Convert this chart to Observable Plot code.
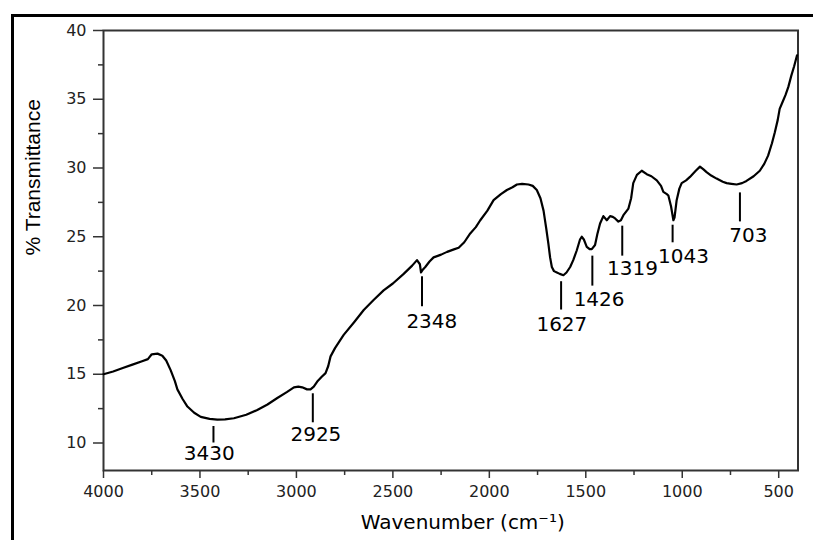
<!DOCTYPE html>
<html><head><meta charset="utf-8">
<script src="https://cdn.jsdelivr.net/npm/d3@7"></script>
<script src="https://cdn.jsdelivr.net/npm/@observablehq/plot@0.6"></script>
<style>
html,body{margin:0;padding:0;background:#fff;overflow:hidden;}
#wrap{position:relative;width:813px;height:540px;overflow:hidden;}
#chart{position:absolute;left:0;top:0;}
#border{position:absolute;left:11px;top:14px;width:820px;height:560px;border-left:3px solid #000;border-top:3px solid #000;pointer-events:none;}
</style></head><body>
<div id="wrap"><div id="chart"></div><div id="border"></div></div>
<script>
const wavenumber = [4000,3950,3900,3850,3800,3770,3750,3720,3695,3675,3652,3630,3617,3590,3565,3530,3496,3450,3410,3370,3324,3260,3203,3150,3099,3050,3013,2990,2970,2945,2927,2910,2892,2870,2849,2835,2823,2800,2755,2700,2651,2600,2548,2500,2444,2400,2375,2360,2354,2345,2332,2310,2289,2250,2219,2180,2159,2130,2099,2070,2047,2010,1978,1940,1909,1880,1857,1830,1797,1775,1754,1735,1719,1705,1694,1685,1676,1665,1650,1635,1616,1600,1581,1565,1547,1530,1521,1510,1495,1480,1469,1452,1440,1426,1409,1391,1374,1360,1348,1331,1318,1305,1279,1265,1254,1235,1210,1184,1160,1132,1110,1098,1080,1072,1058,1046,1040,1029,1015,1003,980,960,930,908,890,874,850,822,790,770,745,718,690,667,630,598,575,555,535,520,505,495,480,465,450,435,420,405];
const transmittance = [15.0,15.2,15.45,15.7,15.95,16.1,16.45,16.5,16.35,16.0,15.3,14.5,13.9,13.2,12.65,12.2,11.9,11.75,11.7,11.72,11.8,12.05,12.4,12.8,13.27,13.7,14.05,14.1,14.05,13.9,13.9,14.1,14.47,14.8,15.08,15.6,16.3,16.9,17.86,18.8,19.67,20.4,21.1,21.6,22.3,22.9,23.3,23.0,22.4,22.6,22.8,23.2,23.5,23.7,23.9,24.1,24.2,24.6,25.24,25.7,26.2,26.9,27.66,28.1,28.4,28.6,28.8,28.85,28.8,28.7,28.4,27.8,26.9,25.6,24.5,23.5,22.8,22.5,22.4,22.3,22.2,22.4,22.8,23.3,24.0,24.8,25.0,24.8,24.27,24.1,24.1,24.4,25.2,25.96,26.5,26.2,26.5,26.45,26.33,26.1,26.2,26.57,27.05,27.8,28.9,29.5,29.8,29.55,29.4,29.1,28.7,28.26,28.1,28.0,27.2,26.2,26.4,27.66,28.5,28.9,29.1,29.35,29.8,30.1,29.9,29.7,29.45,29.23,29.0,28.9,28.85,28.8,28.9,29.06,29.4,29.8,30.3,30.9,31.8,32.6,33.5,34.3,34.8,35.3,35.9,36.7,37.4,38.2];

const peakLabels = ["3430","2925","2348","1627","1426","1319","1043","703"];
const peakLineX = [3430,2915,2349,1628,1466,1311,1050,701];
const peakLineTop = [11.2,13.58,22.09,21.73,23.59,25.77,25.84,28.19];
const peakLineBottom = [10.0,11.47,19.91,19.67,21.41,23.59,24.56,26.08];
const peakTextX = [3452,2899,2298,1624,1431,1258,994,657];
const peakTextY = [9.22,10.62,18.82,18.58,20.45,22.7,23.59,25.12];

const xTicks = [4000,3500,3000,2500,2000,1500,1000,500];
const xMinorTicks = [3750,3250,2750,2250,1750,1250,750];
const yTicks = [10,15,20,25,30,35,40];
const yMinorTicks = [12.5,17.5,22.5,27.5,32.5,37.5];

const xTitle = "Wavenumber (cm⁻¹)";
const yTitle = "% Transmittance";

const spectrum = wavenumber.map((w, i) => ({w, t: transmittance[i]}));
const peaks = peakLabels.map((label, i) => ({
  label, x: peakLineX[i], y1: peakLineTop[i], y2: peakLineBottom[i], tx: peakTextX[i], ty: peakTextY[i]
}));

const chart = Plot.plot({
  width: 813, height: 540,
  marginLeft: 103, marginRight: 15.5, marginTop: 30, marginBottom: 70,
  style: {background: "#fff", fontFamily: "'DejaVu Sans', sans-serif", fontSize: "16px", color: "#222"},
  x: {domain: [4000, 400]},
  y: {domain: [8, 40]},
  marks: [
    Plot.axisX(xMinorTicks, {tickSize: 5, tickFormat: () => "", stroke: "#333", strokeWidth: 1.5, label: null}),
    Plot.axisX(xTicks, {tickSize: 8, tickPadding: 7, stroke: "#333", strokeWidth: 1.5, fill: "#222", label: null, tickFormat: d => String(d)}),
    Plot.axisY(yMinorTicks, {tickSize: 5, tickFormat: () => "", stroke: "#333", strokeWidth: 1.5, label: null}),
    Plot.axisY(yTicks, {tickSize: 10, tickPadding: 7, stroke: "#333", strokeWidth: 1.5, fill: "#222", label: null, tickFormat: d => String(d)}),
    Plot.frame({stroke: "#333", strokeWidth: 2}),
    Plot.line(spectrum, {x: "w", y: "t", stroke: "#000", strokeWidth: 2.2, strokeLinejoin: "round"}),
    Plot.ruleX(peaks, {x: "x", y1: "y1", y2: "y2", stroke: "#000", strokeWidth: 2}),
    Plot.text(peaks, {x: "tx", y: "ty", text: "label", fontSize: 20, fill: "#000"}),
    Plot.text([xTitle], {frameAnchor: "bottom", dx: 12, dy: 58, fontSize: 20, fill: "#000"}),
    Plot.text([yTitle], {frameAnchor: "left", rotate: -90, dx: -70, dy: 5, fontSize: 21, fill: "#000", fontFamily: "'Liberation Sans', Arial, sans-serif"})
  ]
});
document.getElementById("chart").appendChild(chart);
</script>
</body></html>
